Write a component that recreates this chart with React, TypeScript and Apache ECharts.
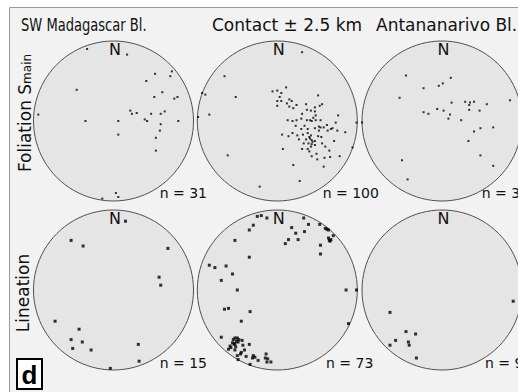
import React, { useEffect, useRef } from "react";
import * as echarts from "echarts";

// ---- data (normalised stereonet coordinates: x = east, y = north, radius = 1) ----
const columnTitles = ["SW Madagascar Bl.", "Contact \u00b1 2.5 km", "Antananarivo Bl."];
const rowTitles = ["Foliation S", "Lineation"];
const rowSubscript = "main";
const northLabel = "N";

const foliationSW: number[][] = [
  [-0.33, 0.9], [0.17, 0.83], [0.52, 0.59], [0.41, 0.5], [0.73, 0.62], [0.71, 0.56],
  [-0.46, 0.39], [0.61, 0.36], [0.51, 0.3], [0.76, 0.28], [0.8, 0.3], [-0.94, 0.08],
  [0.21, 0.13], [0.23, 0.09], [0.29, 0.1], [0.47, 0.09], [0.59, 0.09], [0.64, 0.12],
  [-0.35, 0.0], [0.06, 0.0], [0.39, 0.02], [0.42, 0.0], [0.81, 0.0], [0.59, -0.04],
  [0.58, -0.12], [0.06, -0.17], [0.53, -0.21], [0.53, -0.37], [0.03, -0.9], [0.06, -0.95],
  [-0.14, -0.97],
];

const foliationContact: number[][] = [
  [0.31, 0.86], [-0.66, 0.56], [-0.94, 0.35], [-0.9, 0.33], [-0.52, 0.3], [-0.99, 0.05],
  [-0.85, 0.08], [-0.62, -0.43], [-0.22, -0.82], [0.28, -0.75], [0.2, -0.55], [0.07, -0.35],
  [0.06, -0.17], [0.99, -0.02], [0.94, -0.33], [0.11, 0.42], [-0.06, 0.37], [0.0, 0.38],
  [0.03, 0.3], [0.0, 0.25], [0.05, 0.25], [0.0, 0.19], [0.15, 0.27], [0.18, 0.25],
  [0.15, 0.18], [0.2, 0.16], [0.24, 0.2], [0.51, 0.32], [0.53, 0.19], [0.56, 0.21],
  [0.37, 0.14], [0.42, 0.13], [0.47, 0.17], [0.47, 0.12], [0.48, 0.07], [0.31, 0.09],
  [0.3, 0.03], [0.37, 0.01], [0.41, 0.01], [0.43, 0.0], [0.48, 0.01], [0.54, 0.01],
  [0.13, 0.01], [0.19, 0.0], [0.24, 0.01], [0.76, 0.07], [0.73, -0.02], [0.23, -0.06],
  [0.3, -0.1], [0.38, -0.1], [0.47, -0.09], [0.52, -0.07], [0.54, -0.08], [0.58, -0.08],
  [0.63, -0.12], [0.67, -0.1], [0.69, -0.09], [0.75, -0.12], [0.85, -0.14], [0.14, -0.19],
  [0.19, -0.15], [0.25, -0.18], [0.32, -0.17], [0.38, -0.15], [0.42, -0.18], [0.51, -0.19],
  [0.36, -0.23], [0.41, -0.22], [0.43, -0.24], [0.47, -0.25], [0.33, -0.28], [0.39, -0.28],
  [0.43, -0.29], [0.55, -0.2], [0.56, -0.28], [0.6, -0.32], [0.71, -0.25], [0.31, -0.35],
  [0.38, -0.35], [0.42, -0.32], [0.65, -0.37], [0.49, -0.41], [0.43, -0.44], [0.5, -0.48],
  [0.59, -0.46], [0.66, -0.45], [0.78, -0.44], [0.58, -0.57], [0.44, -0.26], [0.4, -0.2],
  [0.34, -0.06], [0.45, 0.04], [0.27, -0.23], [0.52, -0.12], [0.36, 0.21], [0.12, 0.22],
  [0.47, -0.3], [0.62, -0.05], [0.05, 0.35], [0.4, -0.38],
];

const foliationAnt: number[][] = [
  [-0.45, 0.57], [0.11, 0.54], [-0.23, 0.41], [-0.04, 0.44], [0.01, 0.47], [-0.53, 0.29],
  [0.12, 0.23], [0.29, 0.24], [0.35, 0.23], [0.4, 0.24], [0.34, 0.2], [0.56, 0.21],
  [0.85, 0.26], [-0.23, 0.11], [-0.17, 0.09], [-0.06, 0.15], [0.02, 0.13], [0.1, 0.08],
  [0.08, 0.03], [0.24, 0.01], [0.34, 0.14], [0.47, 0.13], [0.64, -0.08], [0.48, -0.09],
  [0.4, -0.13], [0.33, -0.25], [0.48, -0.43], [0.64, -0.56], [-0.5, -0.49], [-0.43, -0.73],
  [-1.0, -0.02],
];

const lineationSW: number[][] = [
  [0.15, 0.86], [-0.53, 0.62], [-0.38, 0.55], [0.68, 0.52], [0.57, 0.16], [0.59, 0.06],
  [-0.73, -0.39], [-0.43, -0.49], [-0.53, -0.62], [-0.39, -0.65], [-0.51, -0.73], [-0.28, -0.75],
  [0.31, -0.68], [0.32, -0.89], [-0.04, -0.98],
];

const lineationContact: number[][] = [
  [-0.25, 0.92], [-0.2, 0.93], [-0.13, 0.9], [-0.3, 0.81], [-0.35, 0.75], [-0.53, 0.62],
  [-0.35, 0.41], [0.18, 0.78], [0.23, 0.71], [0.14, 0.63], [0.1, 0.58], [0.26, 0.63],
  [0.33, 0.9], [0.39, 0.82], [0.34, 0.73], [0.53, 0.82], [0.6, 0.77], [0.64, 0.75],
  [0.7, 0.68], [0.64, 0.65], [0.66, 0.61], [0.54, 0.56], [0.54, 0.45], [-0.85, 0.31],
  [-0.78, 0.28], [-0.64, 0.3], [-0.56, 0.2], [-0.7, 0.12], [-0.5, 0.0], [-0.66, -0.24],
  [-0.61, -0.23], [-0.34, -0.27], [-0.45, -0.39], [0.86, 0.0], [0.99, 0.0], [0.89, -0.42],
  [-0.7, -0.59], [-0.55, -0.62], [-0.53, -0.6], [-0.5, -0.6], [-0.48, -0.62], [-0.44, -0.63],
  [-0.53, -0.67], [-0.54, -0.68], [-0.49, -0.65], [-0.59, -0.7], [-0.61, -0.74], [-0.53, -0.75],
  [-0.43, -0.69], [-0.35, -0.68], [-0.41, -0.75], [-0.5, -0.82], [-0.46, -0.8], [-0.39, -0.83],
  [-0.49, -0.87], [-0.3, -0.82], [-0.31, -0.85], [-0.24, -0.88], [-0.34, -0.93], [-0.14, -0.8],
  [-0.15, -0.85], [-0.13, -0.9], [-0.08, -0.9], [0.62, 0.76], [0.65, 0.62], [-0.51, -0.64],
  [-0.56, -0.66], [-0.58, -0.72], [-0.45, -0.78], [-0.28, -0.84], [-0.52, -0.71], [0.67, 0.63],
  [-0.12, -0.86],
];

const lineationAnt: number[][] = [
  [-0.65, -0.28], [-0.45, -0.52], [-0.33, -0.55], [-0.58, -0.63], [-0.65, -0.69], [-0.42, -0.65],
  [-0.41, -0.69], [-0.32, -0.85], [0.89, -0.14],
];

const countLabels = ["n = 31", "n = 100", "n = 31", "n = 15", "n = 73", "n = 9"];
const panelLetter = "d";

// ---- layout / style ----
const FONT = "'Comic Sans MS', 'DejaVu Sans', sans-serif";
const R = 80;
const colX = [113.5, 277.3, 442];
const rowY = [121, 290];
const countPos = [
  [159.7, 193], [322.7, 193], [481.7, 193],
  [159.7, 363], [326, 363], [485, 363],
];

const panelData = [foliationSW, foliationContact, foliationAnt, lineationSW, lineationContact, lineationAnt];

export default function App() {
  const ref = useRef<HTMLDivElement>(null);

  useEffect(() => {
    if (!ref.current) return;
    const chart = echarts.init(ref.current, null, { renderer: "svg" });

    const grids: any[] = [];
    const xAxes: any[] = [];
    const yAxes: any[] = [];
    const series: any[] = [];

    panelData.forEach((data, i) => {
      const row = Math.floor(i / 3);
      const col = i % 3;
      const cx = colX[col];
      const cy = rowY[row];
      grids.push({
        left: cx - R,
        top: cy - R,
        width: 2 * R,
        height: 2 * R,
        show: false,
        containLabel: false,
        outerBoundsMode: "none",
      });
      xAxes.push({ type: "value", gridIndex: i, min: -1, max: 1, show: false });
      yAxes.push({ type: "value", gridIndex: i, min: -1, max: 1, show: false });
      series.push({
        type: "custom",
        xAxisIndex: i,
        yAxisIndex: i,
        data: [[0, 0]],
        silent: true,
        z: 2,
        clip: false,
        renderItem: (_params: any, api: any) => {
          const c = api.coord([0, 0]);
          const e = api.coord([1, 0]);
          return {
            type: "circle",
            shape: { cx: c[0], cy: c[1], r: e[0] - c[0] },
            style: { fill: "#e5e5e5", stroke: "#505050", lineWidth: 1 },
          };
        },
      });
      series.push({
        type: "scatter",
        xAxisIndex: i,
        yAxisIndex: i,
        data,
        symbol: "rect",
        symbolSize: row === 0 ? 2 : 3,
        itemStyle: { color: "#000" },
        silent: true,
        clip: false,
        z: 3,
      });
    });

    const graphics: any[] = [];
    graphics.push({
      type: "rect",
      z: -5,
      silent: true,
      shape: { x: 9.5, y: 7.5, width: 600, height: 500 },
      style: { fill: "#f2f2f2", stroke: "#9a9a9a", lineWidth: 1 },
    });
    const titleX = [21, 212, 376];
    columnTitles.forEach((t, i) => {
      graphics.push({
        type: "text",
        x: titleX[i],
        y: 25,
        z: 10,
        scaleX: i === 0 ? 0.77 : 1,
        style: {
          text: t,
          fontFamily: FONT,
          fontSize: 17,
          fill: "#111",
          align: "left",
          verticalAlign: "middle",
        },
      });
    });
    graphics.push({
      type: "text",
      x: 23,
      y: 113,
      z: 10,
      rotation: Math.PI / 2,
      style: {
        text: "{a|" + rowTitles[0] + "}{b|" + rowSubscript + "}",
        align: "center",
        verticalAlign: "middle",
        rich: {
          a: { fontFamily: FONT, fontSize: 17, fill: "#111", verticalAlign: "bottom", lineHeight: 20 },
          b: { fontFamily: FONT, fontSize: 12, fill: "#111", verticalAlign: "bottom", lineHeight: 18 },
        },
      },
    });
    graphics.push({
      type: "text",
      x: 23,
      y: 293,
      z: 10,
      rotation: Math.PI / 2,
      style: {
        text: rowTitles[1],
        fontFamily: FONT,
        fontSize: 17,
        fill: "#111",
        align: "center",
        verticalAlign: "middle",
      },
    });
    for (let i = 0; i < 6; i++) {
      const row = Math.floor(i / 3);
      const col = i % 3;
      graphics.push({
        type: "text",
        x: colX[col] + 1.5,
        y: rowY[row] - R + 8.5,
        z: 10,
        style: {
          text: northLabel,
          fontFamily: FONT,
          fontSize: 16,
          fill: "#111",
          align: "center",
          verticalAlign: "middle",
        },
      });
      graphics.push({
        type: "text",
        x: countPos[i][0],
        y: countPos[i][1],
        z: 10,
        style: {
          text: countLabels[i],
          fontFamily: FONT,
          fontSize: 14,
          fill: "#111",
          align: "left",
          verticalAlign: "middle",
        },
      });
    }
    graphics.push({
      type: "rect",
      z: 10,
      shape: { x: 17, y: 359, width: 25, height: 30 },
      style: { fill: "#fff", stroke: "#000", lineWidth: 2 },
    });
    graphics.push({
      type: "text",
      x: 29.5,
      y: 374.5,
      z: 11,
      style: {
        text: panelLetter,
        fontFamily: "'Liberation Sans', Arial, sans-serif",
        fontWeight: "bold",
        fontSize: 26,
        fill: "#000",
        align: "center",
        verticalAlign: "middle",
      },
    });

    chart.setOption({
      animation: false,
      backgroundColor: "#ffffff",
      grid: grids,
      xAxis: xAxes,
      yAxis: yAxes,
      series,
      graphic: { elements: graphics },
    });

    return () => chart.dispose();
  }, []);

  return (
    <div
      ref={ref}
      style={{ position: "absolute", left: 0, top: 0, width: 518, height: 392 }}
    />
  );
}
